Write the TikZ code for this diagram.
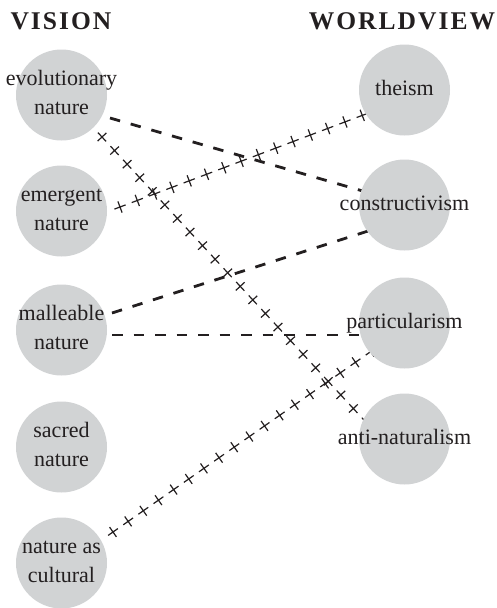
\documentclass[tikz,border=0pt]{standalone}
\usepackage{fontspec}
\setmainfont{Liberation Serif}
\newfontfamily\headfont[LetterSpace=8]{Liberation Serif}
\usetikzlibrary{calc,decorations.markings}
\definecolor{discgray}{RGB}{209,211,212}
\definecolor{ink}{RGB}{35,31,32}
\pgfdeclarelayer{bg}
\pgfsetlayers{bg,main}
\newcommand{\twoline}[2]{\strut #1\\\strut #2}
\begin{document}
\begin{tikzpicture}[x=1pt,y=1pt,
  disc/.style={circle,fill=discgray,minimum size=91pt,inner sep=0pt},
  lbl/.style={font=\fontsize{22}{29}\selectfont,text=ink,align=center,inner sep=0pt},
  head/.style={font=\headfont\bfseries\fontsize{25.5}{30}\selectfont,text=ink,inner sep=0pt,anchor=base},
  dashline/.style={draw=ink,line width=2.8pt,dash pattern=on 10.5pt off 11pt},
  crossline/.style={decoration={markings,mark=between positions 0 and 1 step 18.5pt with {\draw[ink,line width=1.2pt] (-6pt,0)--(6pt,0) (0,-6pt)--(0,6pt);}},postaction={decorate}}]
\useasboundingbox (0,0) rectangle (497,-608);

% headings
\node[head] (hv) at (61,-29) {VISION};
\node[head] (hw) at (402,-29) {WORLDVIEW};

% left column
\node[disc] (evo)  at (61.5,-95)  {};
\node[disc] (emer) at (61.5,-211) {};
\node[disc] (mall) at (61.5,-330) {};
\node[disc] (sacr) at (61.5,-447) {};
\node[disc] (cult) at (61.5,-563) {};
% right column
\node[disc] (thei) at (404.5,-90)  {};
\node[disc] (cons) at (404.5,-205) {};
\node[disc] (part) at (404.5,-323) {};
\node[disc] (anti) at (404.5,-439) {};

% labels
\node[lbl] (evoT)  at ($(evo)+(0,1.3)$)  {\twoline{evolutionary}{nature}};
\node[lbl] (emerT) at ($(emer)+(0,1.3)$) {\twoline{emergent}{nature}};
\node[lbl] (mallT) at ($(mall)+(0,1.3)$) {\twoline{malleable}{nature}};
\node[lbl] (sacrT) at ($(sacr)+(0,1.3)$) {\twoline{sacred}{nature}};
\node[lbl] (cultT) at ($(cult)+(0,1.3)$) {\twoline{nature as}{cultural}};
\node[lbl] (theiT) at (thei) {\strut theism};
\node[lbl] (consT) at (cons) {\strut constructivism};
\node[lbl] (partT) at (part) {\strut particularism};
\node[lbl] (antiT) at (anti) {\strut anti-naturalism};

% connectors (under the discs)
\begin{pgfonlayer}{bg}
\draw[dashline] ($(evo)+(48.5,-23)$) -- ($(cons)+(-24.5,9)$);
\path[crossline] ($(emer)+(58.5,4)$) -- ($(thei)+(-9.5,-13)$);
\path[crossline] ($(evo)+(40.5,-42)$) -- ($(anti)+(-9.5,-14.5)$);
\draw[dashline] ($(mall)+(50.5,17)$) -- ($(cons)+(-9.5,-17.4)$);
\draw[dashline] ($(mall)+(50.5,-5)$) -- ($(part)+(-9.5,-12)$);
\path[crossline] ($(cult)+(51.5,31)$) -- ($(part)+(-9.5,-11.6)$);
\end{pgfonlayer}
\end{tikzpicture}
\end{document}
